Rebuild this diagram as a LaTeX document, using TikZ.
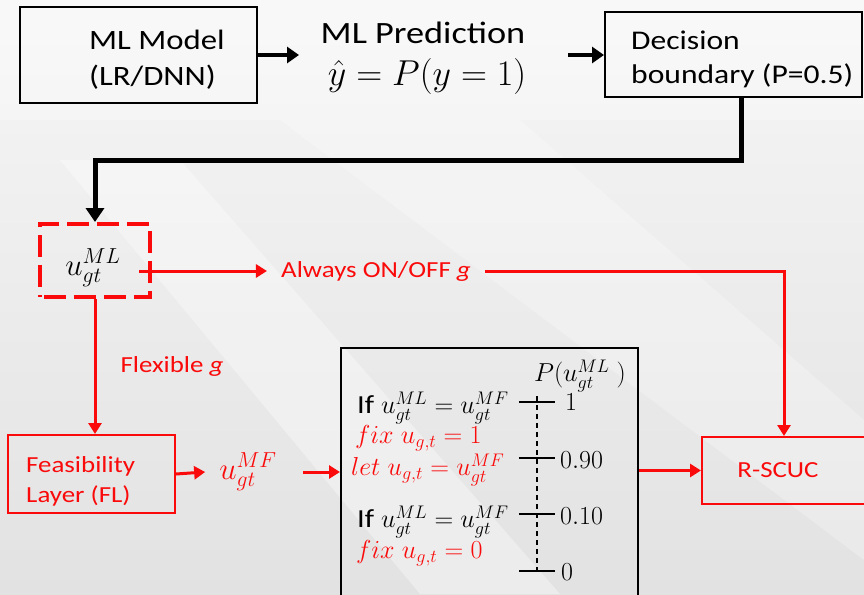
\documentclass[tikz,border=0pt]{standalone}
\usepackage{fix-cm}
\usepackage{fontspec}
\setmainfont{Carlito}[FakeStretch=1.17]
\usetikzlibrary{arrows.meta}
\definecolor{pptred}{RGB}{250,10,10}
\definecolor{bgtop}{RGB}{246,246,246}
\definecolor{bgbot}{RGB}{226,226,226}
\tikzset{
  lbl/.style={inner sep=0, font=\fontsize{28}{32}\selectfont},
  redlbl/.style={inner sep=0, text=pptred, font=\fontsize{23}{28}\selectfont},
  blackbox/.style={draw=black, line width=2},
  redbox/.style={draw=pptred, line width=2},
  barrow/.style={line width=4, -{Triangle[length=12, width=16]}},
  bconn/.style={line width=5, -{Triangle[length=14, width=18]}},
  rarrow/.style={draw=pptred, line width=3, -{Triangle[length=11, width=13]}},
  rline/.style={draw=pptred, line width=3},
  tick/.style={line width=1.5},
  mathlbl/.style={inner sep=0, font=\fontsize{26}{30}\selectfont},
}
\begin{document}
\begin{tikzpicture}[x=1pt, y=-1pt]
  \useasboundingbox (0,0) rectangle (864,594);
  \clip (0,0) rectangle (864,594);
  % slide background
  \shade[top color=bgtop, bottom color=bgbot] (0,0) rectangle (864,594);
  \fill[white, opacity=0.35] (60,160) -- (180,160) -- (560,594) -- (420,594) -- cycle;
  \fill[white, opacity=0.25] (280,120) -- (520,120) -- (864,420) -- (864,560) -- cycle;
  \fill[white, opacity=0.3] (0,0) rectangle (864,120);

  % top row
  \node[blackbox, minimum width=237, minimum height=96] (model) at (138.5,55) {};
  \node[lbl, anchor=west] (modelA) at (89,40) {ML Model};
  \node[lbl, anchor=west] (modelB) at (89,77) {(LR/DNN)};

  \node[lbl, font=\fontsize{31}{34}\selectfont] (predA) at (423,33) {ML Prediction};
  \node[lbl, font=\fontsize{36}{40}\selectfont] (predB) at (427,77) {$\hat{y} = P(y = 1)$};
  \coordinate (predIn) at (299,55);
  \coordinate (predOut) at (568,55);

  \node[blackbox, minimum width=257, minimum height=85] (dec) at (733.5,54.5) {};
  \node[lbl, font=\fontsize{27}{30}\selectfont, anchor=west] (decA) at (631,40) {Decision};
  \node[lbl, font=\fontsize{27}{30}\selectfont, anchor=west] (decB) at (631,76) {boundary (P=0.5)};

  \draw[barrow] (model.east |- predIn) -- (predIn);
  \draw[barrow] (predOut) -- (dec.west |- predOut);

  % dashed ML output
  \node[draw=pptred, line width=4, dash pattern=on 22 off 8, dash phase=-4,
        minimum width=110, minimum height=73, inner sep=0] (ml) at (95,260.5) {};
  \node[inner sep=0, font=\fontsize{31}{34}\selectfont] (mltxt) at (93,268) {$u_{gt}^{ML}$};
  \coordinate (bend) at (95,160);
  \draw[bconn] (dec.south) ++(7.5,0) |- (bend) -- (ml.north);

  % always on/off branch
  \node[redlbl] (always) at (376,271) {Always ON/OFF \textit{g}};
  \draw[rarrow] ([xshift=-13]ml.east |- always) -- ([xshift=-14]always.west);

  % R-SCUC
  \node[redbox, minimum width=164, minimum height=67, text=pptred,
        font=\fontsize{23}{28}\selectfont] (rscuc) at (784,470.5) {\hspace{-12pt}R-SCUC};
  \draw[rline, -{Triangle[length=11, width=13]}] ([xshift=14]always.east) -| (rscuc.north);

  % flexible branch
  \node[redlbl] (flex) at (172,366) {Flexible \textit{g}};
  \node[redbox, minimum width=167, minimum height=78] (fl) at (91.5,474) {};
  \node[redlbl, anchor=west] (flA) at (26,466) {Feasibility};
  \node[redlbl, anchor=west] (flB) at (26,496) {Layer (FL)};
  \draw[rarrow] (ml.south) -- (ml.south |- fl.north);

  \node[inner sep=0, text=pptred, font=\fontsize{31}{34}\selectfont] (umf) at (248,472) {$u_{gt}^{MF}$};
  \draw[rarrow] (fl.east) -- ([xshift=-14]umf.west);

  % fixing rules box
  \node[blackbox, minimum width=297, minimum height=260] (rules) at (489.5,478) {};
  \draw[rarrow] ([xshift=26]umf.east) -- (rules.west |- umf);
  \draw[rarrow] (rules.east |- rscuc) -- (rscuc.west);

  \node[mathlbl] (ptitle) at (580,376) {$P\bigl(u_{gt}^{ML}\;\bigr)$};

  \coordinate (t1) at (537,402);
  \coordinate (t2) at (537,458);
  \coordinate (t3) at (537,514);
  \coordinate (t4) at (537,571);
  \foreach \t in {t1,t2,t3,t4} \draw[tick] ([xshift=-18]\t) -- ([xshift=18]\t);
  \draw[tick, dash pattern=on 5 off 4] ([yshift=6]t1) -- ([yshift=-4]t4);
  \node[mathlbl, anchor=west] (v1) at (565,402) {$1$};
  \node[mathlbl, anchor=west] (v2) at (560,460) {$0.90$};
  \node[mathlbl, anchor=west] (v3) at (560,516) {$0.10$};
  \node[mathlbl, anchor=west] (v4) at (561,572) {$0$};

  \node[mathlbl, anchor=west] (r1) at (357,408) {If $u_{gt}^{ML} = u_{gt}^{MF}$};
  \node[mathlbl, anchor=west, text=pptred] (r2) at (355,438) {$fix\;u_{g,t} = 1$};
  \node[mathlbl, anchor=west, text=pptred] (r3) at (351,470) {$let\;u_{g,t} = u_{gt}^{MF}$};
  \node[mathlbl, anchor=west] (r4) at (357,522) {If $u_{gt}^{ML} = u_{gt}^{MF}$};
  \node[mathlbl, anchor=west, text=pptred] (r5) at (356,553) {$fix\;u_{g,t} = 0$};
\end{tikzpicture}
\end{document}
